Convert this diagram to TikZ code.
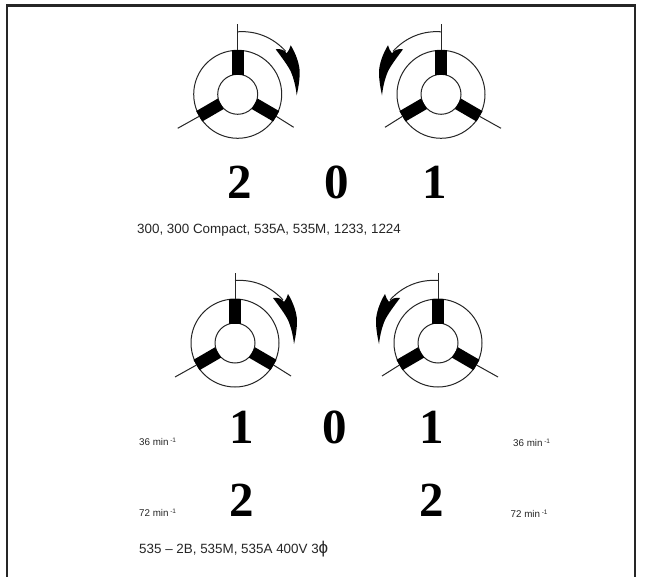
\documentclass[tikz,border=0pt]{standalone}
\usepackage{fontspec}
\setmainfont{Liberation Sans}
\newfontfamily\digitfont{Liberation Serif}[BoldFont={Liberation Serif Bold}]
\newcommand{\rpm}[1]{#1 min\,\raisebox{0.5ex}{\fontsize{6.5}{7}\selectfont -1}}
\tikzset{
  x=1pt,y=-1pt,
  digit/.style={inner sep=0pt,font=\digitfont\bfseries\fontsize{49}{49}\selectfont},
  label/.style={inner sep=0pt,anchor=west,text=black!85,font=\fontsize{13.4}{15}\selectfont},
  speed/.style={inner sep=0pt,anchor=west,text=black!85,font=\fontsize{9.8}{11}\selectfont},
  ringline/.style={line width=1pt,draw=black!85},
  wire/.style={line width=1pt,draw=black!85},
  spoke/.style={line width=12pt,draw=black},
}
\newcommand{\rotor}[3]{%
  \begin{scope}[shift={(#1,#2)},xscale=#3]
    \draw[ringline] (0,0) circle[radius=44];
    \draw[ringline] (0,0) circle[radius=20];
    \draw[spoke] (0,-19) -- (0,-44);
    \draw[spoke] (-17,9.5) -- (-38.5,22);
    \draw[spoke] (17,9.5) -- (38.5,22);
    \draw[wire] (0,-44) -- (0,-70);
    \draw[wire] (-38.5,22) -- (-60,34);
    \draw[wire] (38.5,22) -- (56,33);
    \draw[wire] (0,-62.5) .. controls (22,-64) and (38,-54) .. (48,-43);
    \fill[black] (38,-45) .. controls (43,-46) and (47,-44) .. (49,-41)
      .. controls (51,-43) and (52,-46) .. (53,-49)
      .. controls (58,-41) and (62,-30) .. (62,-22)
      .. controls (62,-14) and (60.5,-6) .. (59,1)
      .. controls (58,-8) and (56,-16) .. (53,-23)
      .. controls (50,-29) and (44,-37) .. (38,-45) -- cycle;
  \end{scope}}
\begin{document}
\begin{tikzpicture}
  \useasboundingbox (0,0) rectangle (647,577);
  \fill[white] (0,0) rectangle (647,577);
  \draw[line width=2.2pt,draw=black!85] (7,577) -- (7,5.5) -- (635,5.5) -- (635,577);
  \rotor{237.7}{94.3}{1}
  \rotor{441}{94.3}{-1}
  \rotor{235}{343}{1}
  \rotor{438}{343}{-1}
  \node[digit] (a2) at (240,182) {2};
  \node[digit] (a0) at (337,182) {0};
  \node[digit] (a1) at (435,182) {1};
  \node[label] (t1) at (137,230) {300, 300 Compact, 535A, 535M, 1233, 1224};
  \node[digit] (b1) at (242,427) {1};
  \node[digit] (b0) at (335,427) {0};
  \node[digit] (b3) at (432,427) {1};
  \node[digit] (c2) at (242,500) {2};
  \node[digit] (c3) at (432,500) {2};
  \node[speed] (s1) at (139,441.5) {\rpm{36}};
  \node[speed] (s2) at (139,513) {\rpm{72}};
  \node[speed] (s3) at (513,443) {\rpm{36}};
  \node[speed] (s4) at (510.5,514) {\rpm{72}};
  \node[label] (t2) at (139,549) {535 – 2B, 535M, 535A 400V 3{\fontsize{17}{15}\selectfont ϕ}};
\end{tikzpicture}
\end{document}
